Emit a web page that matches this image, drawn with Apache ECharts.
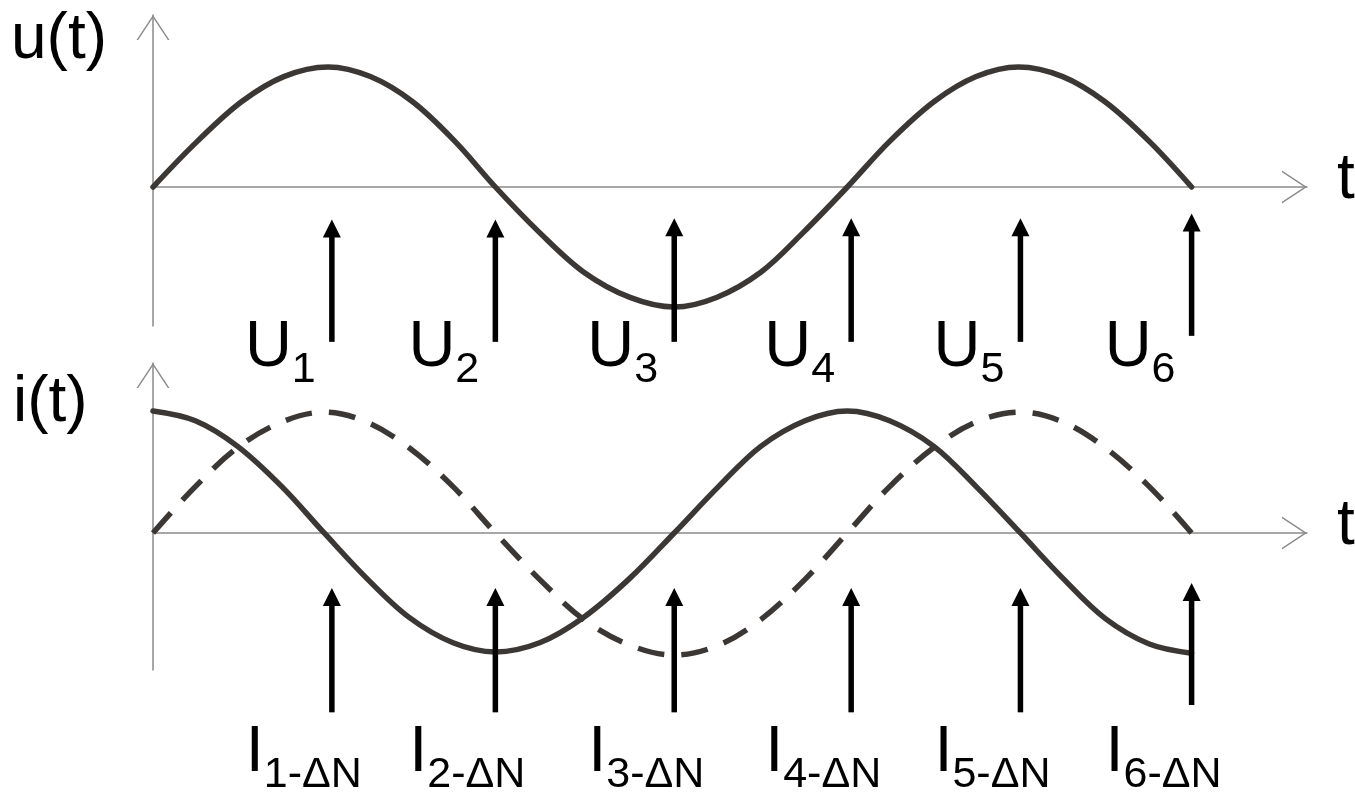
<!DOCTYPE html>
<html>
<head>
<meta charset="utf-8">
<script src="https://cdn.jsdelivr.net/npm/echarts@6/dist/echarts.min.js"></script>
<style>
  html, body {margin: 0; padding: 0; background: #fff;}
  #chart {width: 1355px; height: 794px;}
</style>
</head>
<body>
<div id="chart"></div>
<script>
// time in degrees of the u(t) wave, values normalised to the amplitude
const tU = [0, 23, 46, 68, 91, 113, 135, 157, 178, 201, 224, 248, 271, 293, 316, 338, 361, 383, 406, 428, 450, 473, 495, 518, 540];
const uVals = [0, 0.38, 0.71, 0.92, 1.0, 0.92, 0.71, 0.38, 0, -0.38, -0.71, -0.92, -1.0, -0.92, -0.71, -0.38, 0, 0.38, 0.71, 0.92, 1.0, 0.92, 0.71, 0.38, 0];

const tI = [0, 22, 44, 67, 89, 111, 133, 156, 178, 201, 224, 248, 271, 294, 316, 339, 361, 383, 406, 428, 451, 473, 495, 518, 540];
const iVals = [1.0, 0.92, 0.71, 0.38, 0, -0.37, -0.69, -0.9, -0.975, -0.9, -0.69, -0.37, 0, 0.38, 0.71, 0.92, 1.0, 0.92, 0.71, 0.38, 0, -0.37, -0.7, -0.91, -0.985];
const iDashed = [0, 0.38, 0.7, 0.91, 0.99, 0.91, 0.7, 0.38, 0, -0.38, -0.71, -0.92, -1.0, -0.92, -0.71, -0.38, 0, 0.38, 0.7, 0.91, 0.99, 0.91, 0.7, 0.38, 0];

// sampling arrows
const arrowT = [93, 178, 271, 363, 451, 540];
const uArrowFrom = [-1.29, -1.29, -1.29, -1.29, -1.29, -1.24];
const uArrowTo = [-0.27, -0.27, -0.26, -0.26, -0.26, -0.22];
const iArrowFrom = [-1.47, -1.47, -1.47, -1.47, -1.47, -1.41];
const iArrowTo = [-0.45, -0.45, -0.45, -0.45, -0.45, -0.41];
const uSubs = ['1', '2', '3', '4', '5', '6'];
const iSubs = ['1-ΔN', '2-ΔN', '3-ΔN', '4-ΔN', '5-ΔN', '6-ΔN'];

const FONT = "'Liberation Sans', Arial, sans-serif";
const AXIS_COLOR = '#8a8a8a';
const CURVE_COLOR = '#3b3735';
const CHEVRON = 'path://M16.5,0L33,25L31.3,25L16.5,2.6L1.7,25L0,25Z';

function pairs(xs, ys) {
    return xs.map((x, i) => [x, ys[i]]);
}

function axisLine() {
    return {
        show: true,
        onZero: true,
        symbol: ['none', CHEVRON],
        symbolSize: [33, 25],
        symbolOffset: [0, -12.5],
        lineStyle: {color: AXIS_COLOR, width: 1.5}
    };
}

function xAxisOf(idx) {
    return {
        type: 'value', gridIndex: idx, min: 0, max: 600,
        axisLine: axisLine(), axisTick: {show: false}, axisLabel: {show: false}, splitLine: {show: false}
    };
}

function yAxisOf(idx, min, max) {
    return {
        type: 'value', gridIndex: idx, min: min, max: max,
        axisLine: axisLine(), axisTick: {show: false}, axisLabel: {show: false}, splitLine: {show: false}
    };
}

function arrowRenderer(mainText, subs, level, lay) {
    return function (params, api) {
        const x = api.value(0);
        const p0 = api.coord([x, api.value(1)]);
        const p1 = api.coord([x, api.value(2)]);
        const lab = api.coord([x, level]);
        const head = 18, half = 9;
        return {
            type: 'group',
            children: [
                {type: 'line', shape: {x1: p0[0], y1: p0[1], x2: p1[0], y2: p1[1] + head - 1},
                    style: {stroke: '#000', lineWidth: 5.5}},
                {type: 'polygon', shape: {points: [[p1[0], p1[1]], [p1[0] - half, p1[1] + head], [p1[0] + half, p1[1] + head]]},
                    style: {fill: '#000'}},
                {type: 'text', style: {text: mainText, x: lab[0] + lay.mainDx, y: lab[1] + lay.mainDy,
                    font: '65px ' + FONT, fill: '#000', align: lay.mainAlign, verticalAlign: 'middle'}},
                {type: 'text', style: {text: subs[params.dataIndex], x: lab[0] + lay.subDx, y: lab[1] + lay.subDy,
                    font: '43px ' + FONT, fill: '#000', align: 'left', verticalAlign: 'middle'}}
            ]
        };
    };
}

function bigText(text, x, y) {
    return {type: 'text', x: x, y: y, style: {text: text, font: '64px ' + FONT, fill: '#000', align: 'left', verticalAlign: 'middle'}};
}

function curve(xIdx, xs, ys, dashed) {
    return {
        type: 'line', xAxisIndex: xIdx, yAxisIndex: xIdx, data: pairs(xs, ys),
        smooth: 0.35, showSymbol: false, z: 2,
        lineStyle: {color: CURVE_COLOR, width: 5.5, cap: dashed ? 'butt' : 'round', type: dashed ? [27, 17] : 'solid'}
    };
}

const chart = echarts.init(document.getElementById('chart'));
chart.setOption({
    backgroundColor: '#fff',
    animation: false,
    grid: [
        {left: 153, top: 15, width: 1154, height: 311, outerBoundsMode: 'none'},
        {left: 153, top: 363, width: 1154, height: 307, outerBoundsMode: 'none'}
    ],
    xAxis: [xAxisOf(0), xAxisOf(1)],
    yAxis: [yAxisOf(0, -1.158, 1.433), yAxisOf(1, -1.123, 1.393)],
    graphic: [
        bigText('u(t)', 11, 40),
        bigText('i(t)', 13, 403),
        bigText('t', 1337, 180),
        bigText('t', 1337, 526)
    ],
    series: [
        curve(0, tU, uVals, false),
        curve(1, tI, iVals, false),
        curve(1, tI, iDashed, true),
        {
            type: 'custom', xAxisIndex: 0, yAxisIndex: 0, z: 3,
            data: arrowT.map((t, i) => [t, uArrowFrom[i], uArrowTo[i]]),
            encode: {x: 0, y: [1, 2]},
            renderItem: arrowRenderer('U', uSubs, -1.29,
                {mainAlign: 'right', mainDx: -40, mainDy: 6, subDx: -40, subDy: 28})
        },
        {
            type: 'custom', xAxisIndex: 1, yAxisIndex: 1, z: 3,
            data: arrowT.map((t, i) => [t, iArrowFrom[i], iArrowTo[i]]),
            encode: {x: 0, y: [1, 2]},
            renderItem: arrowRenderer('I', iSubs, -1.47,
                {mainAlign: 'left', mainDx: -86, mainDy: 40.5, subDx: -68, subDy: 63})
        }
    ]
});
</script>
</body>
</html>
